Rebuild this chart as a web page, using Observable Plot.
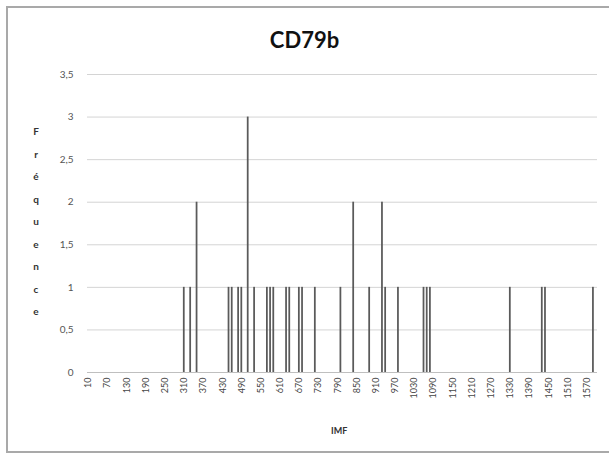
<!DOCTYPE html>
<html>
<head>
<meta charset="utf-8">
<script src="https://cdn.jsdelivr.net/npm/d3@7"></script>
<script src="https://cdn.jsdelivr.net/npm/@observablehq/plot@0.6"></script>
<style>
  html, body { margin: 0; padding: 0; background: #fff; }
  #wrap { position: relative; width: 609px; height: 457px; overflow: hidden; font-family: Lato, "Open Sans", sans-serif; }
  #frame { position: absolute; left: 6px; top: 6px; width: 640px; height: 447px; border: 2px solid #a9a9a9; box-sizing: border-box; }
  #title { position: absolute; left: 0; width: 609px; top: 26px; text-align: center; font-weight: bold; font-size: 22px; color: #111; }
  #ylab { position: absolute; left: 30px; top: 120px; width: 12px; text-align: center; font-size: 10px; font-weight: bold; color: #333; line-height: 22.5px; }
  #xlab { position: absolute; left: 331px; top: 425px; font-size: 9px; font-weight: bold; color: #333; }
  #chart { position: absolute; left: 0; top: 0; }
</style>
</head>
<body>
<div id="wrap">
  <div id="frame"></div>
  <div id="chart"></div>
  <div id="title"></div>
  <div id="ylab"></div>
  <div id="xlab"></div>
</div>
<script>
const title = "CD79b";
const yLabel = "Fréquence";
const xLabel = "IMF";

// IMF bins (lower bound of each 10-unit class), first class and count
const binStart = 10;
const binStep = 10;
const binCount = 160;

// bins with a non-zero frequency and their frequencies
const imfValues = [310, 330, 350, 450, 460, 480, 490, 510, 530, 570, 580, 590, 630, 640, 670, 680, 720, 800, 840, 890, 930, 940, 980, 1060, 1070, 1080, 1330, 1430, 1440, 1590];
const frequencies = [1, 1, 2, 1, 1, 1, 1, 3, 1, 1, 1, 1, 1, 1, 1, 1, 1, 1, 2, 1, 2, 1, 1, 1, 1, 1, 1, 1, 1, 1];

const xTickLabels = [10, 70, 130, 190, 250, 310, 370, 430, 490, 550, 610, 670, 730, 790, 850, 910, 970, 1030, 1090, 1150, 1210, 1270, 1330, 1390, 1450, 1510, 1570];
const yTicks = [0, 0.5, 1, 1.5, 2, 2.5, 3, 3.5];

document.getElementById("title").textContent = title;
document.getElementById("xlab").textContent = xLabel;
document.getElementById("ylab").innerHTML = Array.from(yLabel).map(c => `<div>${c}</div>`).join("");

const domain = Array.from({length: binCount}, (_, i) => String(binStart + i * binStep));
const data = imfValues.map((v, i) => ({imf: String(v), freq: frequencies[i]}));

const chart = Plot.plot({
  width: 609,
  height: 457,
  marginLeft: 87,
  marginRight: 12,
  marginTop: 74,
  marginBottom: 85,
  style: {fontFamily: "Lato, 'Open Sans', sans-serif", background: "transparent"},
  x: {type: "band", domain, paddingInner: 0.45, paddingOuter: 0, label: null},
  y: {domain: [0, 3.5], label: null},
  marks: [
    Plot.ruleY(yTicks, {stroke: "#d4d4d4", strokeWidth: 1}),
    Plot.barY(data, {x: "imf", y: "freq", fill: "#5a5a5a"}),
    Plot.ruleX([0], {frameAnchor: "left", stroke: "#bfbfbf"}),
    Plot.ruleY([0], {stroke: "#bfbfbf"}),
    Plot.axisY({ticks: yTicks, tickSize: 0, tickPadding: 14, fontSize: 10, fill: "#555",
      tickFormat: d => String(d).replace(".", ","), label: null}),
    Plot.axisX({ticks: xTickLabels.map(String), tickSize: 0, tickPadding: 5, tickRotate: -90, fontSize: 9, fill: "#444", label: null})
  ]
});
document.getElementById("chart").appendChild(chart);
</script>
</body>
</html>
